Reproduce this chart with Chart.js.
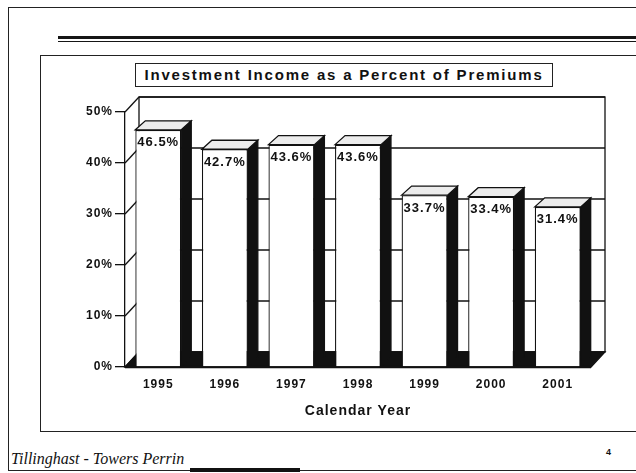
<!DOCTYPE html>
<html>
<head>
<meta charset="utf-8">
<script src="https://cdn.jsdelivr.net/npm/chart.js@4"></script>
<style>
  html, body { margin: 0; padding: 0; background: #fff; }
  #page { position: relative; width: 636px; height: 473px; overflow: hidden;
          font-family: "Liberation Sans", Arial, sans-serif; color: #111; }
  #frame { position: absolute; left: 8px; top: 7px; width: 640px; height: 462px;
           border-left: 1.5px solid #222; border-top: 1.5px solid #222; border-bottom: 1.5px solid #222; }
  .rule { position: absolute; left: 58px; width: 600px; background: #151515; }
  #box { position: absolute; left: 40px; top: 55px; width: 620px; height: 375px;
         border: 1.5px solid #222; border-right: none; }
  #title { position: absolute; left: 135px; top: 63px; width: 416px; height: 22px;
           border: 1.5px solid #222; font-weight: bold; font-size: 15px; letter-spacing: 1.8px;
           line-height: 22px; text-align: center; white-space: nowrap; }
  #foot { position: absolute; left: 11px; top: 450px; font-family: "Liberation Serif", "Times New Roman", serif;
          font-style: italic; font-size: 16px; }
  #pg { position: absolute; left: 606px; top: 447px; font-size: 9px; font-weight: bold; }
  #thick { position: absolute; left: 190px; top: 468px; width: 110px; height: 4px; background: #111; }
  canvas { position: absolute; left: 0; top: 0; }
</style>
</head>
<body>
<div id="page">
  <div id="frame"></div>
  <div class="rule" style="top:36px;height:3px"></div>
  <div class="rule" style="top:41px;height:1px"></div>
  <div id="box"></div>
  <div id="title">Investment Income as a Percent of Premiums</div>
  <div id="foot">Tillinghast - Towers Perrin</div>
  <div id="pg">4</div>
  <div id="thick"></div>
  <canvas id="chart" width="636" height="473"></canvas>
</div>
<script>
// data
const years = ['1995', '1996', '1997', '1998', '1999', '2000', '2001'];
const pctOfPremiums = [46.5, 42.7, 43.6, 43.6, 33.7, 33.4, 31.4];
const yTicks = [0, 10, 20, 30, 40, 50];

const INK  = '#111';
const WALL = { dx: 14, dy: 15 };   // back wall offset (3D depth)
const BAR  = { dx: 10, dy: 9 };    // bar depth

function poly(ctx, pts, fill, stroke) {
  ctx.beginPath();
  pts.forEach(([x, y], i) => (i ? ctx.lineTo(x, y) : ctx.moveTo(x, y)));
  ctx.closePath();
  if (fill)   { ctx.fillStyle = fill; ctx.fill(); }
  if (stroke) { ctx.strokeStyle = stroke; ctx.stroke(); }
}

function line(ctx, x1, y1, x2, y2) {
  ctx.beginPath();
  ctx.moveTo(x1, y1);
  ctx.lineTo(x2, y2);
  ctx.stroke();
}

// walls, floor, gridlines on back wall
const box3d = {
  id: 'box3d',
  beforeDraw(chart) {
    chart.ctx.letterSpacing = '1px';
  },
  beforeDatasetsDraw(chart) {
    const { ctx, chartArea: a, scales: { y } } = chart;
    const { dx, dy } = WALL;
    ctx.save();
    ctx.strokeStyle = INK;
    ctx.lineWidth = 1.3;

    ctx.fillStyle = '#fff';
    ctx.fillRect(a.left + dx, a.top - dy, a.width, a.height);
    ctx.strokeRect(a.left + dx, a.top - dy, a.width, a.height);

    yTicks.forEach(v => {
      const py = y.getPixelForValue(v);
      line(ctx, a.left + dx, py - dy, a.right + dx, py - dy);
      line(ctx, a.left, py, a.left + dx, py - dy);
    });

    poly(ctx, [[a.left, a.bottom], [a.right, a.bottom],
               [a.right + dx, a.bottom - dy], [a.left + dx, a.bottom - dy]], INK, INK);
    ctx.lineWidth = 2.5;
    line(ctx, a.left, a.bottom, a.right, a.bottom);
    ctx.restore();
  },
  afterDatasetsDraw(chart) {
    const { ctx } = chart;
    const { dx, dy } = BAR;
    ctx.save();
    ctx.lineWidth = 1.3;
    chart.getDatasetMeta(0).data.forEach((bar, i) => {
      const { x, y, base, width } = bar.getProps(['x', 'y', 'base', 'width'], true);
      const l = x - width / 2, r = x + width / 2;
      poly(ctx, [[r, y], [r + dx, y - dy], [r + dx, base - dy], [r, base]], INK, INK);
      poly(ctx, [[l, y], [l + dx, y - dy], [r + dx, y - dy], [r, y]], '#ececec', INK);

      ctx.fillStyle = INK;
      ctx.font = 'bold 13px "Liberation Sans", Arial, sans-serif';
      ctx.textBaseline = 'middle';
      ctx.textAlign = 'left';
      ctx.fillText(pctOfPremiums[i].toFixed(1) + '%', l + 2, y + 13);
    });
    ctx.restore();
  },
};

Chart.defaults.font.family = '"Liberation Sans", Arial, sans-serif';

new Chart(document.getElementById('chart'), {
  type: 'bar',
  data: {
    labels: years,
    datasets: [{
      data:            pctOfPremiums,
      backgroundColor: '#fff',
      borderColor:     INK,
      borderWidth:     1.3,
      barPercentage:   0.69,
      categoryPercentage: 1,
    }],
  },
  options: {
    responsive: false,
    animation: false,
    layout: { padding: { left: 40, right: 45, top: 112, bottom: 51 } },
    plugins: {
      legend:  { display: false },
      tooltip: { enabled: false },
    },
    scales: {
      x: {
        afterFit: s => { s.height = 55; },
        grid:   { display: false, drawTicks: false },
        border: { display: false },
        ticks:  { padding: 10, color: INK, font: { size: 12, weight: 'bold' } },
        title:  { display: true, text: 'Calendar Year', color: INK,
                  font: { size: 14, weight: 'bold' }, padding: { top: 4, bottom: 2 } },
      },
      y: {
        min: 0,
        max: 50,
        afterFit: s => { s.width = 85; },
        afterBuildTicks: s => { s.ticks = yTicks.map(v => ({ value: v })); },
        grid:   { drawOnChartArea: false, tickLength: 10, color: INK, lineWidth: 1.3 },
        border: { display: true, color: INK, width: 1.3 },
        ticks:  { padding: 2, color: INK, font: { size: 12, weight: 'bold' }, callback: v => v + '%' },
      },
    },
  },
  plugins: [box3d],
});
</script>
</body>
</html>
